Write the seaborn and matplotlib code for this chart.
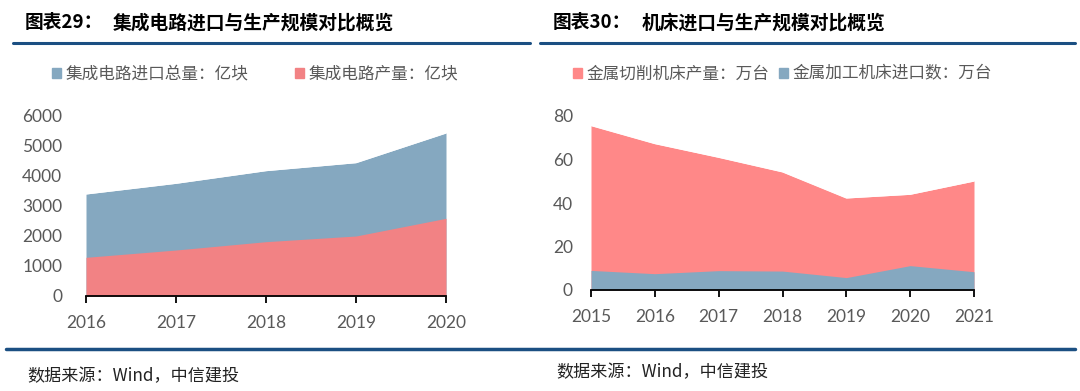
import matplotlib
matplotlib.use("Agg")
import matplotlib.pyplot as plt
import matplotlib.patches as mpatches
import seaborn as sns
import pandas as pd

# left chart: integrated circuits, 亿块
ic_years = [2016, 2017, 2018, 2019, 2020]
ic_import = [3400, 3756, 4178, 4444, 5433]
ic_output = [1289, 1533, 1811, 2000, 2589]

# right chart: machine tools, 万台
mt_years = [2015, 2016, 2017, 2018, 2019, 2020, 2021]
mt_output = [75.6, 67.3, 61.0, 54.3, 42.3, 44.0, 50.1]
mt_import = [9.0, 7.5, 8.9, 8.7, 5.7, 11.2, 8.4]

BLUE = "#85A8C0"
RED_L = "#F28284"
RED_R = "#FF8888"
LINE = "#1B4F82"
GREY = "#595959"

sns.set_theme(style="white")
plt.rcParams["font.family"] = ["Noto Sans CJK SC", "DejaVu Sans"]

W, H = 1080, 391
fig = plt.figure(figsize=(W / 100, H / 100), dpi=100)


def box(x0, x1, ytop, ybot):
    return [x0 / W, 1 - ybot / H, (x1 - x0) / W, (ybot - ytop) / H]


def style_axes(ax, ymax, step, pad):
    ax.set_ylim(0, ymax)
    ax.set_yticks(range(0, ymax + 1, step))
    ax.margins(x=0)
    for s in ["left", "right", "top"]:
        ax.spines[s].set_visible(False)
    ax.spines["bottom"].set_color("black")
    ax.spines["bottom"].set_linewidth(1.3)
    ax.tick_params(axis="x", bottom=True, direction="out", length=5, width=1.3,
                   color="black", pad=9, labelsize=12.5, labelcolor=GREY)
    ax.tick_params(axis="y", left=False, pad=pad, labelsize=12.5, labelcolor=GREY)
    for lab in ax.get_xticklabels() + ax.get_yticklabels():
        lab.set_fontfamily(["Lato", "DejaVu Sans"])
    ax.set_xlabel("")
    ax.set_ylabel("")
    ax.grid(False)


# ---- left panel
ax1 = fig.add_axes(box(86, 446, 116, 296))
df1 = pd.DataFrame({"year": ic_years, "import": ic_import, "output": ic_output})
ax1.fill_between(df1["year"], df1["import"], color=BLUE, linewidth=0)
ax1.fill_between(df1["year"], df1["output"], color=RED_L, linewidth=0)
sns.lineplot(data=df1, x="year", y="import", ax=ax1, color="white", linewidth=0.8)
ax1.set_xticks(ic_years)
ax1.set_xlim(ic_years[0], ic_years[-1])
style_axes(ax1, 6000, 1000, 11)

# ---- right panel
ax2 = fig.add_axes(box(591, 974, 116, 290))
df2 = pd.DataFrame({"year": mt_years, "output": mt_output, "import": mt_import})
ax2.fill_between(df2["year"], df2["output"], color=RED_R, linewidth=0)
ax2.fill_between(df2["year"], df2["import"], color=BLUE, linewidth=0)
sns.lineplot(data=df2, x="year", y="output", ax=ax2, color="white", linewidth=0.8)
ax2.set_xticks(mt_years)
ax2.set_xlim(mt_years[0], mt_years[-1])
style_axes(ax2, 80, 20, 7)

# ---- legends
leg_kw = dict(frameon=False, fontsize=12, labelcolor=GREY, handlelength=0.55,
              handleheight=0.55, handletextpad=0.25, loc="center left",
              ncol=2, borderaxespad=0, borderpad=0)
fig.legend(handles=[mpatches.Patch(color=BLUE, label="集成电路进口总量：亿块"),
                    mpatches.Patch(color=RED_L, label="集成电路产量：亿块")],
           bbox_to_anchor=(52 / W, 1 - 74 / H), columnspacing=2.8, **leg_kw)
fig.legend(handles=[mpatches.Patch(color=RED_R, label="金属切削机床产量：万台"),
                    mpatches.Patch(color=BLUE, label="金属加工机床进口数：万台")],
           bbox_to_anchor=(573 / W, 1 - 74 / H), columnspacing=0.6, **leg_kw)

# ---- titles, rules and sources
fig.text(25 / W, 1 - 23 / H, "图表29：", fontsize=13.5, fontweight="bold",
         color="black", va="center")
fig.text(113 / W, 1 - 23 / H, "集成电路进口与生产规模对比概览",
         fontsize=13.5, fontweight="bold", color="black", va="center")
fig.text(553 / W, 1 - 23 / H, "图表30：", fontsize=13.5, fontweight="bold",
         color="black", va="center")
fig.text(642 / W, 1 - 23 / H, "机床进口与生产规模对比概览",
         fontsize=13.5, fontweight="bold", color="black", va="center")
fig.add_artist(plt.Line2D([13 / W, 530 / W], [1 - 43 / H] * 2, color=LINE, lw=2.2))
fig.add_artist(plt.Line2D([540 / W, 1075 / W], [1 - 43 / H] * 2, color=LINE, lw=2.2))
fig.add_artist(plt.Line2D([6 / W, 1075 / W], [1 - 349 / H] * 2, color=LINE, lw=2.5))
fig.text(27 / W, 1 - 376 / H, "数据来源：Wind，中信建投", fontsize=12.3,
         color="#222222", va="center")
fig.text(556 / W, 1 - 372 / H, "数据来源：Wind，中信建投", fontsize=12.3,
         color="#222222", va="center")

fig.savefig("out.png", dpi=100)
